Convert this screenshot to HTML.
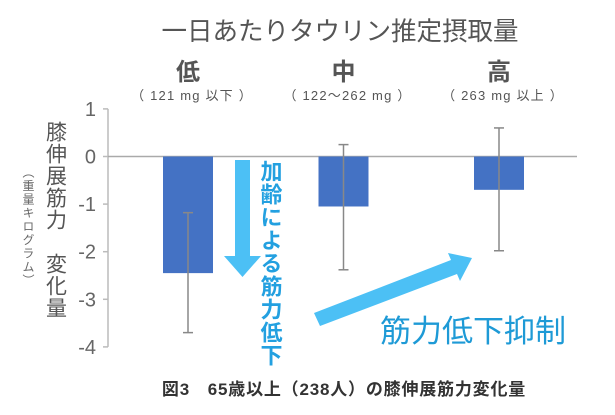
<!DOCTYPE html>
<html><head><meta charset="utf-8">
<style>
body{margin:0;background:#fff;}
svg text{font-family:"Liberation Sans","Noto Sans CJK JP",sans-serif;}
</style></head>
<body>
<svg width="615" height="410" viewBox="0 0 615 410" xmlns="http://www.w3.org/2000/svg">
<text x="340" y="40" font-size="25.5" fill="#555" text-anchor="middle">一日あたりタウリン推定摂取量</text>
<g id="cats"></g>
<g id="axis"></g>
<g id="bars"></g>
<g>
<text x="55" y="121" font-size="21" fill="#555" style="writing-mode:vertical-rl" letter-spacing="1">膝伸展筋力　変化量</text>
<text x="28" y="166" font-size="12" fill="#666" style="writing-mode:vertical-rl" letter-spacing="1.5">（重量キログラム）</text>
</g>
<g>
<rect x="235" y="160" width="15" height="98" fill="#4cc0f5"/>
<polygon points="224,256 261,256 242.5,277" fill="#4cc0f5"/>
<text x="270" y="160" font-size="22" fill="#23a0e0" font-weight="bold" style="writing-mode:vertical-rl" letter-spacing="1">加齢による筋力低下</text>
</g>
<g>
<polygon points="314,313 451,260 448,253 472,258 460,281 457,274 320,326" fill="#4cc0f5"/>
<text x="380" y="342" font-size="31" fill="#1e9ad6">筋力低下抑制</text>
</g>
<text x="344" y="395" font-size="17" fill="#333" font-weight="bold" letter-spacing="0.8" text-anchor="middle">図3　65歳以上（238人）の膝伸展筋力変化量</text>
</svg>
<script>
const categories=["低","中","高"];
const ranges=["（ 121 mg 以下 ）","（ 122～262 mg ）","（ 263 mg 以上 ）"];
const values=[-2.45,-1.05,-0.7];
const errHigh=[-1.18,0.25,0.6];
const errLow=[-3.7,-2.38,-1.98];
const yTicks=[1,0,-1,-2,-3,-4];
const NS="http://www.w3.org/2000/svg";
function y(v){return 156.5-v*47.6;}
function x(i){return 188+i*155.5;}
function mk(tag,attrs,parent,txt){const e=document.createElementNS(NS,tag);for(const k in attrs)e.setAttribute(k,attrs[k]);if(txt!==undefined)e.textContent=txt;parent.appendChild(e);return e;}
const ax=document.getElementById('axis');
let l=mk('line',{x1:108,y1:y(1),x2:108,y2:y(-4),stroke:'#bbb','stroke-width':1.5},ax);


l=mk('line',{x1:108,y1:y(0),x2:577,y2:y(0),stroke:'#aaa','stroke-width':1.5},ax);


yTicks.forEach(t=>{
  const tk=mk('line',{x1:103,y1:y(t),x2:108,y2:y(t),stroke:'#bbb','stroke-width':1.5},ax);
  
  
  const tx=mk('text',{x:96,y:y(t)+7,'font-size':20,fill:'#666','text-anchor':'end'},ax,t===0?'0':(t<0?'-'+(-t):String(t)));
  
  
});
const cg=document.getElementById('cats');
categories.forEach((c,i)=>{
  const t=mk('text',{x:x(i),y:80,'font-size':24,'font-weight':'bold',fill:'#555','text-anchor':'middle'},cg,c);
  
  
  const r=mk('text',{x:x(i)+4,y:100,'font-size':13,fill:'#555','text-anchor':'middle','letter-spacing':1.2},cg,ranges[i]);
  
  
});
const bg=document.getElementById('bars');
values.forEach((v,i)=>{
  const top=Math.min(y(0),y(v)),h=Math.abs(y(v)-y(0));
  const b=mk('rect',{x:x(i)-25,y:top,width:50,height:h,fill:'#4472c4'},bg);
  
  
  const g=mk('g',{stroke:'#888','stroke-width':1.5},bg);
  
  
  mk('line',{x1:x(i),y1:y(errHigh[i]),x2:x(i),y2:y(errLow[i])},g);
  mk('line',{x1:x(i)-5,y1:y(errHigh[i]),x2:x(i)+5,y2:y(errHigh[i])},g);
  mk('line',{x1:x(i)-5,y1:y(errLow[i]),x2:x(i)+5,y2:y(errLow[i])},g);
});
</script>
</body></html>
